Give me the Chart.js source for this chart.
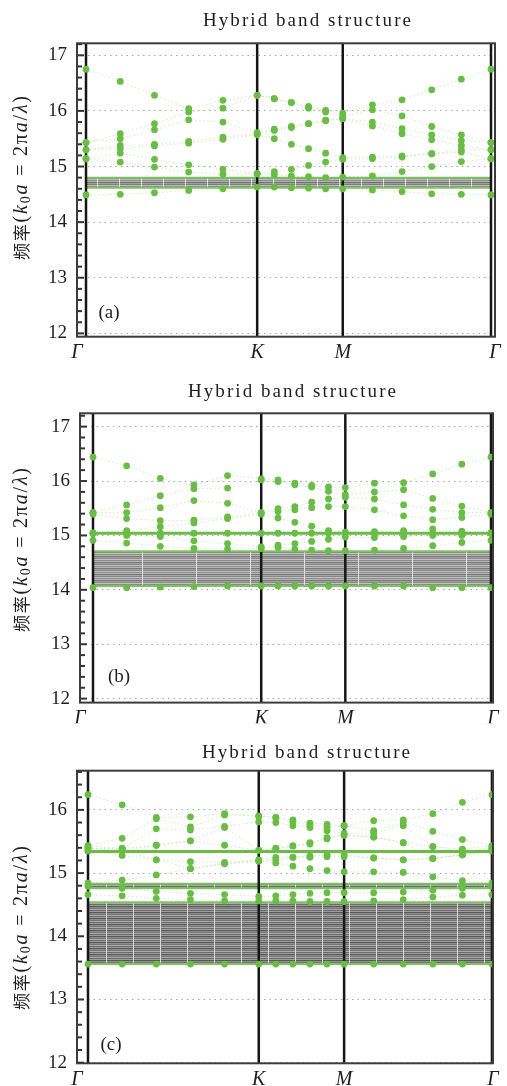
<!DOCTYPE html>
<html>
<head>
<meta charset="utf-8">
<script src="https://cdn.jsdelivr.net/npm/chart.js@4.4.1/dist/chart.umd.min.js"></script>
<style>
  html, body { margin: 0; padding: 0; background: #fff; }
  canvas { display: block; }
</style>
</head>
<body>
<canvas id="pa" width="507" height="362"></canvas>
<canvas id="pb" width="507" height="362"></canvas>
<canvas id="pc" width="507" height="362"></canvas>
<script>
// path Γ-K-M-Γ, |ΓK| = 1
const symLabels = ['Γ', 'K', 'M', 'Γ'];
const symPos = [0, 1, 1.5, 2.366];
const kPos = [0, 0.2, 0.4, 0.6, 0.8, 1, 1.1, 1.2, 1.3, 1.4, 1.5, 1.6732, 1.8464, 2.0196, 2.1928, 2.366];

// (a)
const bandsA = [
  [16.75, 16.53, 16.28, 16.04, 16.19, 16.28, 16.22, 16.15, 16.08, 16.01, 15.96, 16.11, 16.20, 16.38, 16.57, 16.75],
  [15.43, 15.59, 15.77, 15.98, 16.05, 16.28, 16.22, 16.15, 16.05, 15.98, 15.91, 16.02, 15.91, 15.72, 15.57, 15.43],
  [15.43, 15.50, 15.66, 15.84, 15.80, 15.61, 15.67, 15.72, 15.77, 15.83, 15.86, 15.80, 15.68, 15.57, 15.47, 15.43],
  [15.30, 15.38, 15.40, 15.45, 15.53, 15.59, 15.65, 15.70, 15.77, 15.83, 15.86, 15.73, 15.59, 15.48, 15.38, 15.30],
  [15.30, 15.32, 15.37, 15.42, 15.49, 15.57, 15.50, 15.40, 15.32, 15.24, 15.16, 15.17, 15.19, 15.23, 15.30, 15.30],
  [15.14, 15.24, 15.13, 15.03, 14.95, 14.87, 14.91, 14.95, 15.02, 15.08, 15.13, 15.14, 15.17, 15.23, 15.26, 15.14],
  [15.14, 15.08, 14.99, 14.90, 14.86, 14.87, 14.85, 14.83, 14.82, 14.80, 14.81, 14.83, 14.91, 15.00, 15.09, 15.14],
  [14.49, 14.50, 14.53, 14.57, 14.60, 14.63, 14.63, 14.62, 14.61, 14.60, 14.60, 14.58, 14.55, 14.51, 14.50, 14.49]
];
const gapsA = [[14.80, 14.62]];
const flatA = [];
const xRangeA = [-0.0526, 2.3894];
const yRangeA = [11.94, 17.216];

// (b)
const bandsB = [
  [16.44, 16.28, 16.05, 15.93, 16.10, 16.04, 16.02, 15.96, 15.92, 15.89, 15.88, 15.96, 15.97, 16.13, 16.31, 16.44],
  [15.42, 15.56, 15.73, 15.86, 15.87, 16.02, 15.99, 15.93, 15.89, 15.81, 15.75, 15.80, 15.84, 15.68, 15.54, 15.42],
  [15.42, 15.42, 15.51, 15.64, 15.59, 15.42, 15.49, 15.53, 15.61, 15.67, 15.70, 15.67, 15.56, 15.48, 15.42, 15.42],
  [15.39, 15.31, 15.27, 15.28, 15.34, 15.42, 15.44, 15.47, 15.51, 15.53, 15.53, 15.47, 15.36, 15.29, 15.33, 15.39],
  [15.04, 15.09, 15.16, 15.23, 15.31, 15.39, 15.32, 15.24, 15.17, 15.09, 15.06, 15.07, 15.09, 15.12, 15.08, 15.04],
  [15.04, 15.00, 14.98, 14.90, 14.85, 14.79, 14.82, 14.85, 14.89, 14.93, 14.97, 14.96, 14.98, 15.00, 15.00, 15.04],
  [14.91, 14.86, 14.80, 14.76, 14.75, 14.76, 14.78, 14.75, 14.73, 14.72, 14.72, 14.73, 14.76, 14.81, 14.87, 14.91],
  [14.04, 14.04, 14.05, 14.06, 14.07, 14.07, 14.07, 14.07, 14.07, 14.07, 14.07, 14.07, 14.07, 14.04, 14.04, 14.04]
];
const gapsB = [[14.71, 14.07]];
const flatB = [15.04];
const xRangeB = [-0.0773, 2.378];
const yRangeB = [11.927, 17.245];

// (c)
const bandsC = [
  [16.24, 16.08, 15.88, 15.89, 15.94, 15.90, 15.88, 15.84, 15.79, 15.77, 15.75, 15.83, 15.84, 15.94, 16.12, 16.24],
  [15.43, 15.55, 15.86, 15.73, 15.92, 15.90, 15.88, 15.80, 15.76, 15.72, 15.75, 15.67, 15.80, 15.66, 15.53, 15.43],
  [15.43, 15.39, 15.70, 15.68, 15.74, 15.81, 15.80, 15.75, 15.72, 15.67, 15.63, 15.63, 15.75, 15.42, 15.38, 15.43],
  [15.39, 15.39, 15.44, 15.51, 15.72, 15.36, 15.39, 15.43, 15.48, 15.56, 15.60, 15.57, 15.48, 15.42, 15.35, 15.39],
  [15.39, 15.36, 15.44, 15.51, 15.44, 15.36, 15.39, 15.43, 15.46, 15.54, 15.60, 15.57, 15.48, 15.23, 15.29, 15.39],
  [15.35, 15.36, 15.21, 15.18, 15.17, 15.21, 15.25, 15.25, 15.27, 15.29, 15.29, 15.24, 15.21, 15.23, 15.29, 15.35],
  [15.35, 15.28, 15.21, 15.07, 15.15, 15.19, 15.21, 15.25, 15.25, 15.26, 15.26, 15.24, 15.21, 15.23, 15.29, 15.35],
  [14.84, 14.89, 14.97, 15.07, 15.15, 15.19, 15.16, 15.11, 15.07, 15.04, 15.02, 15.02, 15.01, 14.94, 14.88, 14.84],
  [14.79, 14.76, 14.71, 14.68, 14.66, 14.63, 14.64, 14.66, 14.68, 14.69, 14.69, 14.69, 14.70, 14.73, 14.76, 14.79],
  [14.66, 14.64, 14.60, 14.58, 14.56, 14.56, 14.56, 14.56, 14.55, 14.55, 14.55, 14.56, 14.58, 14.62, 14.65, 14.66],
  [13.56, 13.56, 13.56, 13.56, 13.56, 13.56, 13.56, 13.56, 13.56, 13.56, 13.56, 13.56, 13.56, 13.56, 13.56, 13.56]
];
const gapsC = [[14.83, 14.76], [14.54, 13.56]];
const flatC = [15.34];
const xRangeC = [-0.0644, 2.372];
const yRangeC = [11.99, 16.62];

const GREEN = '#69bd45';
const EDGE = '#7dc35f';
const SERIF = '"Liberation Serif", "DejaVu Serif", serif';
const CJK = '"Noto Sans CJK SC", sans-serif';

const isInt = v => Math.abs(v - Math.round(v)) < 1e-6;

// striped gray fill for the continuum of surface states
function stripes(ctx, period, offset, shades) {
  const c = document.createElement('canvas');
  c.width = period; c.height = shades.length;
  const g = c.getContext('2d');
  shades.forEach((s, i) => { g.fillStyle = s; g.fillRect(0, i, period, 1); });
  g.fillStyle = 'rgba(255,255,255,0.7)';
  g.fillRect(0, 0, 1, shades.length);
  const p = ctx.createPattern(c, 'repeat');
  p.setTransform(new DOMMatrix().translate(offset, 0));
  return p;
}

// draw text char by char so it spans a given width
function spaced(ctx, parts, cx, cy, total) {
  const chars = [];
  parts.forEach(([t, f, dy]) => {
    ctx.font = f;
    for (const ch of t) chars.push([ch, f, dy, ctx.measureText(ch).width]);
  });
  const nat = chars.reduce((s, c) => s + c[3], 0);
  const extra = (total - nat) / (chars.length - 1);
  let x = cx - total / 2;
  ctx.textAlign = 'left';
  chars.forEach(([ch, f, dy, w]) => {
    ctx.font = f;
    ctx.fillText(ch, x, cy + dy);
    x += w + extra;
  });
}

function panel(id, cfg) {
  const el = document.getElementById(id);
  const ctx2d = el.getContext('2d');
  const H = el.height;
  const a = cfg.area;
  const datasets = [];

  cfg.gaps.forEach(([top, bot], i) => {
    const shades = cfg.shades[i];
    datasets.push({
      data: [{ x: symPos[0], y: top }, { x: symPos[3], y: top }],
      borderColor: EDGE, borderWidth: 2, pointRadius: 0,
      fill: '+1', backgroundColor: stripes(ctx2d, cfg.period, cfg.offset, shades), order: 20
    });
    datasets.push({
      data: [{ x: symPos[0], y: bot }, { x: symPos[3], y: bot }],
      borderColor: EDGE, borderWidth: 2, pointRadius: 0, fill: false, order: 19
    });
  });

  symPos.forEach(x => datasets.push({
    data: [{ x, y: cfg.y[0] }, { x, y: cfg.y[1] }],
    borderColor: '#161616', borderWidth: 2.5, pointRadius: 0, fill: false, order: 15
  }));

  cfg.bands.forEach(row => datasets.push({
    data: row.map((y, i) => ({ x: kPos[i], y })),
    borderColor: 'rgba(140,205,110,0.4)', borderWidth: 1, borderDash: [1.5, 2.5],
    pointRadius: 3.4, pointBackgroundColor: GREEN, pointBorderWidth: 0,
    fill: false, tension: 0, order: 5
  }));

  cfg.flats.forEach(y => datasets.push({
    data: kPos.map(x => ({ x, y })),
    borderColor: GREEN, borderWidth: 3, fill: false,
    pointRadius: cfg.flatDots ? 3.4 : 0, pointBackgroundColor: GREEN, pointBorderWidth: 0, order: 2
  }));

  const deco = {
    id: 'deco',
    afterDraw(chart) {
      const { ctx, chartArea: ca, scales } = chart;
      ctx.save();
      // inner tick marks
      ctx.strokeStyle = '#333';
      ctx.lineWidth = 2;
      scales.y.ticks.forEach(t => {
        const py = scales.y.getPixelForValue(t.value);
        const len = isInt(t.value) ? 7 : 5;
        ctx.beginPath();
        ctx.moveTo(ca.left, py);
        ctx.lineTo(ca.left + len, py);
        ctx.stroke();
      });
      // frame
      ctx.strokeStyle = '#3c3c3c';
      ctx.lineWidth = 2;
      ctx.strokeRect(ca.left, ca.top, ca.right - ca.left, ca.bottom - ca.top);
      // title
      ctx.fillStyle = '#1e1e1e';
      ctx.textBaseline = 'middle';
      spaced(ctx, [['Hybrid band structure', '19px ' + SERIF, 0]], cfg.title[0], cfg.title[1], 208);
      // panel label
      ctx.font = '19px ' + SERIF;
      ctx.textAlign = 'center';
      ctx.fillText(cfg.tag, cfg.tagPos[0], cfg.tagPos[1]);
      // y axis title, rotated
      ctx.translate(22, cfg.yTitleY);
      ctx.rotate(-Math.PI / 2);
      const R = '20px ' + SERIF, I = 'italic 20px ' + SERIF;
      spaced(ctx, [
        ['频率', '17px ' + CJK, 0], ['(', R, 0], ['k', I, 0], ['0', '14px ' + SERIF, 4],
        ['a', I, 0], [' = 2π', R, 0], ['a', I, 0], ['/', R, 0], ['λ', I, 0], [')', R, 0]
      ], 0, 0, 164);
      ctx.restore();
    }
  };

  return new Chart(el, {
    type: 'line',
    data: { datasets },
    options: {
      responsive: false,
      animation: false,
      layout: { padding: { top: a.top, right: 507 - a.right, left: 0, bottom: 0 } },
      plugins: { legend: { display: false }, tooltip: { enabled: false } },
      scales: {
        x: {
          type: 'linear', min: cfg.x[0], max: cfg.x[1],
          grid: { display: false, drawTicks: false },
          border: { display: false },
          afterFit: s => { s.height = H - a.bottom; },
          afterBuildTicks: s => { s.ticks = [cfg.x[0], symPos[1], symPos[2], cfg.x[1]].map(v => ({ value: v })); },
          ticks: {
            autoSkip: false, maxRotation: 0, padding: 4, color: '#1e1e1e',
            font: { family: SERIF, size: 20, style: 'italic' },
            callback: (v, i) => symLabels[i]
          }
        },
        y: {
          type: 'linear', min: cfg.y[0], max: cfg.y[1], z: cfg.gridZ,
          afterFit: s => { s.width = a.left; },
          grid: {
            drawTicks: false, lineWidth: 1,
            color: c => !isInt(c.tick.value) ? 'rgba(0,0,0,0)' : (cfg.darkGrid.includes(Math.round(c.tick.value)) ? '#111' : '#a8a8a8')
          },
          border: { display: false, dash: [1.5, 4] },
          ticks: {
            stepSize: 0.2, includeBounds: false, autoSkip: false, padding: 10, color: '#1e1e1e',
            font: { family: SERIF, size: 19 },
            callback: v => isInt(v) ? String(Math.round(v)) : ''
          }
        }
      }
    },
    plugins: [deco]
  });
}

const lightShades = ['#8c8c8c', '#b3b3b3', '#707070', '#a1a1a1', '#7e7e7e', '#bdbdbd'];
const midShades = ['#8a8a8a', '#b8b8b8', '#767676', '#a6a6a6', '#858585', '#c4c4c4'];
const darkShades = ['#6a6a6a', '#9d9d9d', '#575757', '#8d8d8d', '#747474', '#ababab'];

panel('pa', {
  bands: bandsA, gaps: gapsA, flats: flatA, x: xRangeA, y: yRangeA,
  area: { left: 77, right: 495, top: 43.3, bottom: 336.7 },
  shades: [lightShades], period: 22, offset: 97,
  title: [307, 21], tag: '(a)', tagPos: [109, 313], yTitleY: 178,
  gridZ: 0, darkGrid: [], flatDots: false
});
panel('pb', {
  bands: bandsB, gaps: gapsB, flats: flatB, x: xRangeB, y: yRangeB,
  area: { left: 80, right: 493, top: 51.3, bottom: 341.3 },
  shades: [midShades], period: 54, offset: 142,
  title: [292, 30], tag: '(b)', tagPos: [119, 315], yTitleY: 188,
  gridZ: 0, darkGrid: [], flatDots: true
});
panel('pc', {
  bands: bandsC, gaps: gapsC, flats: flatC, x: xRangeC, y: yRangeC,
  area: { left: 77, right: 493, top: 46.7, bottom: 339.3 },
  shades: [darkShades, darkShades], period: 27, offset: 106,
  title: [306, 29], tag: '(c)', tagPos: [111, 321], yTitleY: 204,
  gridZ: 1, darkGrid: [14], flatDots: false
});
</script>
</body>
</html>
